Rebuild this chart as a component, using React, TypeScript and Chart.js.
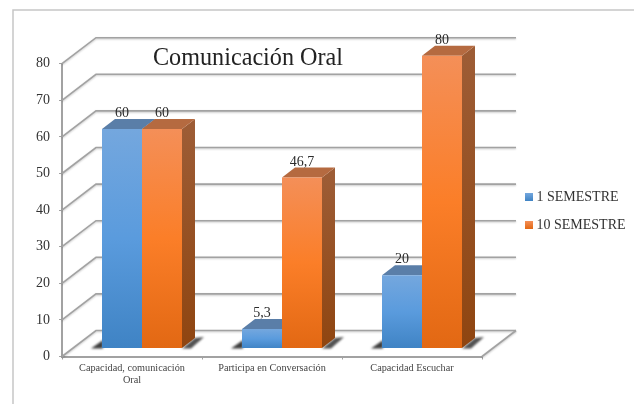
import React, { useEffect, useRef } from "react";
import { Chart, registerables } from "chart.js";

Chart.register(...registerables);

const categories: (string | string[])[] = [
  ["Capacidad, comunicación", "Oral"],
  "Participa en Conversación",
  "Capacidad Escuchar",
];
const semester1 = [60, 5.3, 20];
const semester10 = [60, 46.7, 80];
const seriesNames = ["1 SEMESTRE", "10 SEMESTRE"];
const titleText = "Comunicación Oral";

const SERIF = "'Liberation Serif', 'Times New Roman', serif";
const WALL = { dx: 34, dy: -26 };
const SHIFT = { dx: 10, dy: -8 };
const BAR = { dx: 13, dy: -10 };
const GRID = "#a2a2a2";

const frontStops = [
  ["#74a7de", "#5a9bdd", "#3f83c4"],
  ["#f48f58", "#fb7e28", "#e26813"],
];
const sideStops = [
  ["#4f7aa6", "#2f628f"],
  ["#9d5c35", "#8f4510"],
];
const topColors = ["#5a7ea8", "#b56a40"];

const poly = (ctx: CanvasRenderingContext2D, pts: number[][], fill: any) => {
  ctx.beginPath();
  pts.forEach((p, i) => (i ? ctx.lineTo(p[0], p[1]) : ctx.moveTo(p[0], p[1])));
  ctx.closePath();
  ctx.fillStyle = fill;
  ctx.fill();
};

const scene = {
  id: "scene",
  beforeDraw(chart: any) {
    const { ctx, width, height } = chart;
    ctx.save();
    ctx.strokeStyle = "#c6c6c6";
    ctx.lineWidth = 1.5;
    ctx.beginPath();
    ctx.moveTo(width, 10);
    ctx.lineTo(13, 10);
    ctx.lineTo(13, height);
    ctx.stroke();
    ctx.restore();
  },
  afterLayout(chart: any) {
    const t = chart.titleBlock;
    t.left = 0;
    t.right = 496;
    t.top += 7.5;
    t.bottom += 7.5;
    const l = chart.legend;
    l.left = 514.5;
    l.top = 176;
    l.right = 634;
    l.bottom = 404;
  },
  beforeDatasetsDraw(chart: any) {
    const { ctx, scales, chartArea } = chart;
    const { left, right, bottom } = chartArea;
    ctx.save();
    // walls and floor
    ctx.strokeStyle = GRID;
    ctx.lineWidth = 1.6;
    ctx.shadowColor = "rgba(0,0,0,0.22)";
    ctx.shadowBlur = 2;
    ctx.shadowOffsetY = 1;
    scales.y.ticks.forEach((tick: any) => {
      const y = scales.y.getPixelForValue(tick.value);
      ctx.beginPath();
      ctx.moveTo(left, y);
      ctx.lineTo(left + WALL.dx, y + WALL.dy);
      ctx.lineTo(right + WALL.dx, y + WALL.dy);
      ctx.stroke();
    });
    ctx.beginPath();
    ctx.moveTo(right, bottom);
    ctx.lineTo(right + WALL.dx, bottom + WALL.dy);
    ctx.stroke();
    ctx.restore();

    const metas = [chart.getDatasetMeta(0), chart.getDatasetMeta(1)];
    // floor shadows
    ctx.save();
    ctx.filter = "blur(1.2px)";
    metas[0].data.forEach((blue: any, i: number) => {
      const orange = metas[1].data[i];
      const l = blue.x - blue.width / 2 + SHIFT.dx;
      const r = orange.x + orange.width / 2 + SHIFT.dx;
      const b = blue.base + SHIFT.dy;
      poly(ctx, [[l - 11, b + 0.5], [l + 1, b - 8], [l + 1, b + 0.5]], "rgba(40,40,40,0.9)");
      poly(ctx, [[r, b + 0.5], [r + BAR.dx, b + BAR.dy], [r + BAR.dx + 9, b + BAR.dy - 1], [r + 9, b + 0.5]], "rgba(50,50,50,0.85)");
    });
    ctx.restore();
    // depth faces, behind the front faces
    metas.forEach((meta: any, s: number) => {
      meta.data.forEach((el: any) => {
        const l = el.x - el.width / 2 + SHIFT.dx;
        const r = el.x + el.width / 2 + SHIFT.dx;
        const t = el.y + SHIFT.dy;
        const b = el.base + SHIFT.dy;
        const side = ctx.createLinearGradient(0, t, 0, b);
        side.addColorStop(0, sideStops[s][0]);
        side.addColorStop(1, sideStops[s][1]);
        poly(ctx, [[r, t], [r + BAR.dx, t + BAR.dy], [r + BAR.dx, b + BAR.dy], [r, b]], side);
        poly(ctx, [[l, t], [l + BAR.dx, t + BAR.dy], [r + BAR.dx, t + BAR.dy], [r, t]], topColors[s]);
      });
    });
    ctx.save();
    ctx.translate(SHIFT.dx, SHIFT.dy);
  },
  afterDatasetsDraw(chart: any) {
    const { ctx } = chart;
    ctx.restore();
    ctx.save();
    ctx.font = `14px ${SERIF}`;
    ctx.fillStyle = "#2b2b2b";
    ctx.textAlign = "center";
    ctx.textBaseline = "middle";
    chart.data.datasets.forEach((ds: any, s: number) => {
      chart.getDatasetMeta(s).data.forEach((el: any, i: number) => {
        const text = String(ds.data[i]).replace(".", ",");
        ctx.fillText(text, el.x + SHIFT.dx, el.y + SHIFT.dy - 15.5);
      });
    });
    ctx.restore();
  },
};

const frontFill = (s: number) => (c: any) => {
  if (c.type !== "data") return frontStops[s][1];
  const y = c.chart.scales.y;
  const g = c.chart.ctx.createLinearGradient(0, y.getPixelForValue(c.raw), 0, y.getPixelForValue(0));
  g.addColorStop(0, frontStops[s][0]);
  g.addColorStop(0.5, frontStops[s][1]);
  g.addColorStop(1, frontStops[s][2]);
  return g;
};

export default function App() {
  const ref = useRef<HTMLCanvasElement>(null);
  useEffect(() => {
    const chart = new Chart(ref.current as HTMLCanvasElement, {
      type: "bar",
      data: {
        labels: categories as any,
        datasets: [
          { label: seriesNames[0], data: semester1, backgroundColor: frontFill(0) as any, clip: false as any },
          { label: seriesNames[1], data: semester10, backgroundColor: frontFill(1) as any, clip: false as any },
        ],
      },
      plugins: [scene],
      options: {
        animation: false,
        responsive: false,
        layout: { padding: { left: 0, top: 39.5, right: 152, bottom: 7.5 } },
        datasets: { bar: { barPercentage: 1, categoryPercentage: 80 / 140 } },
        scales: {
          x: {
            afterFit: (a: any) => { a.height = 40; },
            border: { color: GRID, width: 2 },
            grid: { drawOnChartArea: false, drawTicks: true, tickLength: 3, color: GRID },
            ticks: { color: "#444", padding: 3, maxRotation: 0, autoSkip: false, font: { family: SERIF, size: 10.25, lineHeight: 1.17 } },
          },
          y: {
            min: 0,
            max: 80,
            afterFit: (a: any) => { a.width = 62; },
            border: { color: GRID, width: 2 },
            grid: { drawOnChartArea: false, drawTicks: true, tickLength: 3, color: GRID },
            ticks: { stepSize: 10, color: "#333", padding: 9, font: { family: SERIF, size: 14 } },
          },
        },
        plugins: {
          tooltip: { enabled: false },
          title: {
            display: true,
            text: titleText,
            color: "#222",
            padding: 0,
            font: { family: SERIF, size: 24.2, weight: "normal", lineHeight: 1 },
          },
          legend: {
            position: "chartArea" as any,
            align: "start",
            labels: {
              color: "#333",
              usePointStyle: true,
              pointStyle: "rect",
              boxWidth: 1,
              boxHeight: 8,
              padding: 14,
              font: { family: SERIF, size: 14 },
              generateLabels: (c: any) =>
                c.data.datasets.map((d: any, s: number) => {
                  const top = 193 + s * 28;
                  const g = c.ctx.createLinearGradient(0, top, 0, top + 8);
                  g.addColorStop(0, frontStops[s][0]);
                  g.addColorStop(1, frontStops[s][2]);
                  return { text: d.label, fillStyle: g, strokeStyle: "transparent", lineWidth: 0, pointStyle: "rect", datasetIndex: s, fontColor: "#333" };
                }),
            },
          },
        },
      },
    });
    return () => chart.destroy();
  }, []);
  return (
    <div style={{ position: "fixed", left: 0, top: 0, width: 634, height: 404, background: "#fff" }}>
      <canvas ref={ref} width={634} height={404} style={{ display: "block" }} />
    </div>
  );
}
